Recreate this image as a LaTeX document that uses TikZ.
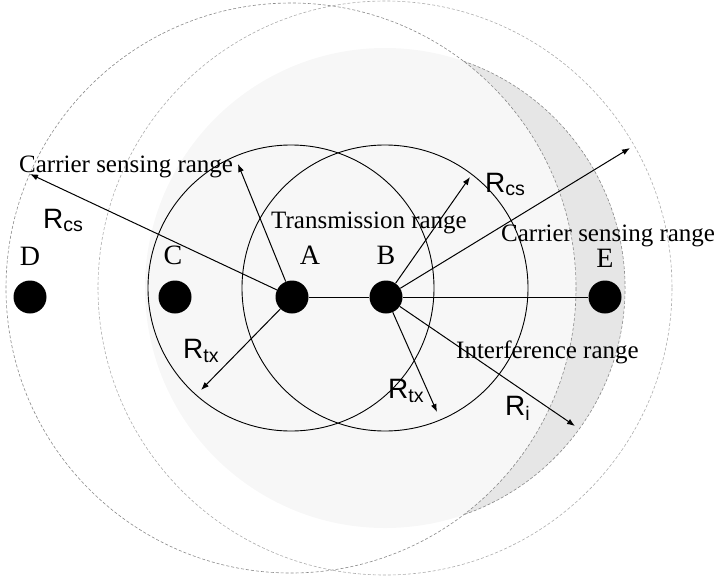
\documentclass[tikz,border=0pt]{standalone}
\usepackage{fontspec}
\setmainfont{Liberation Serif}
\setsansfont{Liberation Sans}
\usetikzlibrary{positioning, arrows.meta}
\definecolor{moongray}{HTML}{E6E6E6}
\definecolor{faint}{HTML}{F7F7F7}
\definecolor{rim}{HTML}{8A8A8A}

\begin{document}
\begin{tikzpicture}[
  x=1pt, y=-1pt,
  font=\fontsize{25}{30}\selectfont,
  every node/.style={inner sep=0pt},
  station/.style={circle, fill=black, minimum size=33pt},
  tag/.style={font=\fontsize{28}{32}\selectfont},
  txt/.style={anchor=base west},
  rlbl/.style={anchor=base west, font=\sffamily\fontsize{28}{32}\selectfont},
  txring/.style={draw=black, line width=0.9pt},
  sense/.style={draw=rim, dashed, dash pattern=on 3pt off 2pt, line width=0.6pt},
  arr/.style={-{Latex[length=8pt,width=6pt]}, line width=1pt}
]
  \useasboundingbox (0,0) rectangle (717,576);

  % centres of the ranges
  \coordinate (cA) at (291,288);
  \coordinate (cB) at (385,288);

  % interference range of B, shaded part outside A's sensing range
  \fill[faint] (cB) circle (240);
  \begin{scope}
    \clip (cB) circle (240);
    \fill[moongray, even odd rule] (cB) circle (300) (cA) circle (285);
  \end{scope}
  \draw[sense] (cB) ++(-70.9:240) arc[start angle=-70.9, end angle=70.9, radius=240];

  % carrier sensing ranges
  \draw[sense] (cA) circle (285);
  \draw[sense, draw=rim!70] (cB) circle (287);

  % transmission ranges
  \draw[txring] (cA) circle (143);
  \draw[txring] (cB) circle (143);

  % stations
  \node[station] (D) at (30,297) {};
  \node[station] (C) at (175,297) {};
  \node[station] (A) at (292,297) {};
  \node[station] (B) at (386,297) {};
  \node[station] (E) at (605,297) {};

  \node[tag, above=15pt of D] (lD) {D};
  \node[tag, above=15pt of C, xshift=-2pt] (lC) {C};
  \node[tag, above=16pt of A, xshift=18pt] (lA) {A};
  \node[tag, above=16pt of B] (lB) {B};
  \node[tag, above=13pt of E] (lE) {E};

  % radius arrows
  \coordinate (tA1) at (30,174);
  \coordinate (tA2) at (238,164);
  \coordinate (tA3) at (201,390);
  \coordinate (tB1) at (470,177);
  \coordinate (tB2) at (630,148);
  \coordinate (tB3) at (437,412);
  \coordinate (tB4) at (575,426);

  \draw[line width=1pt] (A) -- (B) -- (E);
  \draw[arr] (A) -- (tA1);
  \draw[arr] (A) -- (tA2);
  \draw[arr] (A) -- (tA3);
  \draw[arr] (B) -- (tB1);
  \draw[arr] (B) -- (tB2);
  \draw[arr] (B) -- (tB3);
  \draw[arr] (B) -- (tB4);

  % range names
  \node[txt] (csA) at (19,172) {Carrier sensing range};
  \node[txt] (tx) at (271,228) {Transmission range};
  \node[txt] (csB) at (501,241) {Carrier sensing range};
  \node[txt] (intf) at (456,358) {Interference range};

  \node[rlbl] (rcsA) at (43,228) {R\textsubscript{cs}};
  \node[rlbl] (rcsB) at (485,192) {R\textsubscript{cs}};
  \node[rlbl] (rtxA) at (183,358) {R\textsubscript{tx}};
  \node[rlbl] (rtxB) at (388,398) {R\textsubscript{tx}};
  \node[rlbl] (ri) at (505,415) {R\textsubscript{i}};
\end{tikzpicture}
\end{document}
